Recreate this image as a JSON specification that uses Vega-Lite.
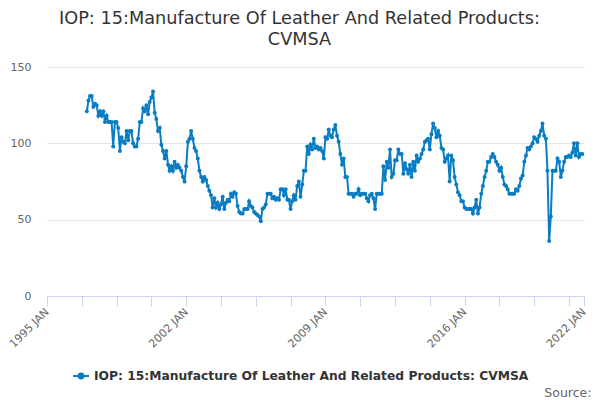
{
  "$schema": "https://vega.github.io/schema/vega-lite/v6.json",
  "width": 537,
  "height": 229,
  "autosize": "none",
  "padding": {"left": 47, "top": 67, "right": 16, "bottom": 104},
  "background": "#ffffff",
  "config": {
    "font": "DejaVu Sans",
    "view": {"stroke": null},
    "legend": {
      "orient": "none",
      "legendX": 25,
      "legendY": 300,
      "labelFont": "DejaVu Sans",
      "labelFontSize": 12.3,
      "labelFontWeight": "bold",
      "labelColor": "#333333",
      "labelLimit": 0,
      "symbolType": "M-1,0H1M-0.3,0A0.3,0.3 0 1,0 0.3,0A0.3,0.3 0 1,0 -0.3,0",
      "symbolSize": 256,
      "symbolStrokeWidth": 2,
      "symbolFillColor": "#0a7dc2",
      "symbolStrokeColor": "#0a7dc2"
    }
  },
  "title": {
    "text": ["IOP: 15:Manufacture Of Leather And Related Products:", "CVMSA"],
    "font": "DejaVu Sans",
    "fontSize": 17.7,
    "fontWeight": "normal",
    "color": "#333333",
    "lineHeight": 21,
    "anchor": "middle",
    "frame": "group",
    "dx": -16,
    "offset": 12
  },
  "data": {
    "values": [
      {"date": "1997-01", "value": 121}, {"date": "1997-02", "value": 128}, {"date": "1997-03", "value": 131}, {"date": "1997-04", "value": 131},
      {"date": "1997-05", "value": 124}, {"date": "1997-06", "value": 126}, {"date": "1997-07", "value": 125}, {"date": "1997-08", "value": 118},
      {"date": "1997-09", "value": 121}, {"date": "1997-10", "value": 118}, {"date": "1997-11", "value": 121}, {"date": "1997-12", "value": 114},
      {"date": "1998-01", "value": 118}, {"date": "1998-02", "value": 114}, {"date": "1998-03", "value": 114}, {"date": "1998-04", "value": 114},
      {"date": "1998-05", "value": 98}, {"date": "1998-06", "value": 114}, {"date": "1998-07", "value": 114}, {"date": "1998-08", "value": 110},
      {"date": "1998-09", "value": 95}, {"date": "1998-10", "value": 104}, {"date": "1998-11", "value": 101}, {"date": "1998-12", "value": 100},
      {"date": "1999-01", "value": 108}, {"date": "1999-02", "value": 102}, {"date": "1999-03", "value": 108}, {"date": "1999-04", "value": 108},
      {"date": "1999-05", "value": 100}, {"date": "1999-06", "value": 98}, {"date": "1999-07", "value": 98}, {"date": "1999-08", "value": 103},
      {"date": "1999-09", "value": 114}, {"date": "1999-10", "value": 114}, {"date": "1999-11", "value": 123}, {"date": "1999-12", "value": 121},
      {"date": "2000-01", "value": 125}, {"date": "2000-02", "value": 119}, {"date": "2000-03", "value": 127}, {"date": "2000-04", "value": 130},
      {"date": "2000-05", "value": 134}, {"date": "2000-06", "value": 120}, {"date": "2000-07", "value": 116}, {"date": "2000-08", "value": 108},
      {"date": "2000-09", "value": 110}, {"date": "2000-10", "value": 99}, {"date": "2000-11", "value": 95}, {"date": "2000-12", "value": 90},
      {"date": "2001-01", "value": 95}, {"date": "2001-02", "value": 86}, {"date": "2001-03", "value": 82}, {"date": "2001-04", "value": 85},
      {"date": "2001-05", "value": 82}, {"date": "2001-06", "value": 88}, {"date": "2001-07", "value": 84}, {"date": "2001-08", "value": 86},
      {"date": "2001-09", "value": 84}, {"date": "2001-10", "value": 82}, {"date": "2001-11", "value": 78}, {"date": "2001-12", "value": 75},
      {"date": "2002-01", "value": 85}, {"date": "2002-02", "value": 101}, {"date": "2002-03", "value": 103}, {"date": "2002-04", "value": 108},
      {"date": "2002-05", "value": 103}, {"date": "2002-06", "value": 97}, {"date": "2002-07", "value": 95}, {"date": "2002-08", "value": 90},
      {"date": "2002-09", "value": 82}, {"date": "2002-10", "value": 78}, {"date": "2002-11", "value": 75}, {"date": "2002-12", "value": 78},
      {"date": "2003-01", "value": 76}, {"date": "2003-02", "value": 72}, {"date": "2003-03", "value": 69}, {"date": "2003-04", "value": 66},
      {"date": "2003-05", "value": 58}, {"date": "2003-06", "value": 64}, {"date": "2003-07", "value": 58}, {"date": "2003-08", "value": 61},
      {"date": "2003-09", "value": 57}, {"date": "2003-10", "value": 60}, {"date": "2003-11", "value": 65}, {"date": "2003-12", "value": 57},
      {"date": "2004-01", "value": 61}, {"date": "2004-02", "value": 63}, {"date": "2004-03", "value": 62}, {"date": "2004-04", "value": 67},
      {"date": "2004-05", "value": 65}, {"date": "2004-06", "value": 68}, {"date": "2004-07", "value": 67}, {"date": "2004-08", "value": 59},
      {"date": "2004-09", "value": 55}, {"date": "2004-10", "value": 54}, {"date": "2004-11", "value": 54}, {"date": "2004-12", "value": 57},
      {"date": "2005-01", "value": 57}, {"date": "2005-02", "value": 57}, {"date": "2005-03", "value": 62}, {"date": "2005-04", "value": 59},
      {"date": "2005-05", "value": 58}, {"date": "2005-06", "value": 55}, {"date": "2005-07", "value": 54}, {"date": "2005-08", "value": 53},
      {"date": "2005-09", "value": 52}, {"date": "2005-10", "value": 49}, {"date": "2005-11", "value": 57}, {"date": "2005-12", "value": 58},
      {"date": "2006-01", "value": 60}, {"date": "2006-02", "value": 67}, {"date": "2006-03", "value": 67}, {"date": "2006-04", "value": 67},
      {"date": "2006-05", "value": 64}, {"date": "2006-06", "value": 65}, {"date": "2006-07", "value": 63}, {"date": "2006-08", "value": 64},
      {"date": "2006-09", "value": 63}, {"date": "2006-10", "value": 70}, {"date": "2006-11", "value": 70}, {"date": "2006-12", "value": 66},
      {"date": "2007-01", "value": 70}, {"date": "2007-02", "value": 63}, {"date": "2007-03", "value": 63}, {"date": "2007-04", "value": 57},
      {"date": "2007-05", "value": 62}, {"date": "2007-06", "value": 66}, {"date": "2007-07", "value": 63}, {"date": "2007-08", "value": 72},
      {"date": "2007-09", "value": 75}, {"date": "2007-10", "value": 65}, {"date": "2007-11", "value": 73}, {"date": "2007-12", "value": 82},
      {"date": "2008-01", "value": 82}, {"date": "2008-02", "value": 98}, {"date": "2008-03", "value": 93}, {"date": "2008-04", "value": 99},
      {"date": "2008-05", "value": 96}, {"date": "2008-06", "value": 103}, {"date": "2008-07", "value": 97}, {"date": "2008-08", "value": 98},
      {"date": "2008-09", "value": 96}, {"date": "2008-10", "value": 97}, {"date": "2008-11", "value": 95}, {"date": "2008-12", "value": 90},
      {"date": "2009-01", "value": 104}, {"date": "2009-02", "value": 103}, {"date": "2009-03", "value": 109}, {"date": "2009-04", "value": 105},
      {"date": "2009-05", "value": 104}, {"date": "2009-06", "value": 109}, {"date": "2009-07", "value": 112}, {"date": "2009-08", "value": 105},
      {"date": "2009-09", "value": 101}, {"date": "2009-10", "value": 93}, {"date": "2009-11", "value": 86}, {"date": "2009-12", "value": 90},
      {"date": "2010-01", "value": 78}, {"date": "2010-02", "value": 78}, {"date": "2010-03", "value": 67}, {"date": "2010-04", "value": 67},
      {"date": "2010-05", "value": 67}, {"date": "2010-06", "value": 65}, {"date": "2010-07", "value": 67}, {"date": "2010-08", "value": 67},
      {"date": "2010-09", "value": 70}, {"date": "2010-10", "value": 66}, {"date": "2010-11", "value": 67}, {"date": "2010-12", "value": 67},
      {"date": "2011-01", "value": 67}, {"date": "2011-02", "value": 64}, {"date": "2011-03", "value": 62}, {"date": "2011-04", "value": 66},
      {"date": "2011-05", "value": 67}, {"date": "2011-06", "value": 64}, {"date": "2011-07", "value": 57}, {"date": "2011-08", "value": 67},
      {"date": "2011-09", "value": 67}, {"date": "2011-10", "value": 67}, {"date": "2011-11", "value": 67}, {"date": "2011-12", "value": 85},
      {"date": "2012-01", "value": 76}, {"date": "2012-02", "value": 88}, {"date": "2012-03", "value": 84}, {"date": "2012-04", "value": 96},
      {"date": "2012-05", "value": 78}, {"date": "2012-06", "value": 80}, {"date": "2012-07", "value": 89}, {"date": "2012-08", "value": 89},
      {"date": "2012-09", "value": 96}, {"date": "2012-10", "value": 93}, {"date": "2012-11", "value": 93}, {"date": "2012-12", "value": 80},
      {"date": "2013-01", "value": 87}, {"date": "2013-02", "value": 83}, {"date": "2013-03", "value": 80}, {"date": "2013-04", "value": 86},
      {"date": "2013-05", "value": 78}, {"date": "2013-06", "value": 88}, {"date": "2013-07", "value": 82}, {"date": "2013-08", "value": 92},
      {"date": "2013-09", "value": 88}, {"date": "2013-10", "value": 90}, {"date": "2013-11", "value": 93}, {"date": "2013-12", "value": 96},
      {"date": "2014-01", "value": 101}, {"date": "2014-02", "value": 102}, {"date": "2014-03", "value": 103}, {"date": "2014-04", "value": 96},
      {"date": "2014-05", "value": 106}, {"date": "2014-06", "value": 113}, {"date": "2014-07", "value": 110}, {"date": "2014-08", "value": 104},
      {"date": "2014-09", "value": 108}, {"date": "2014-10", "value": 105}, {"date": "2014-11", "value": 97}, {"date": "2014-12", "value": 96},
      {"date": "2015-01", "value": 88}, {"date": "2015-02", "value": 90}, {"date": "2015-03", "value": 92}, {"date": "2015-04", "value": 75},
      {"date": "2015-05", "value": 92}, {"date": "2015-06", "value": 89}, {"date": "2015-07", "value": 78}, {"date": "2015-08", "value": 73},
      {"date": "2015-09", "value": 68}, {"date": "2015-10", "value": 66}, {"date": "2015-11", "value": 62}, {"date": "2015-12", "value": 62},
      {"date": "2016-01", "value": 58}, {"date": "2016-02", "value": 57}, {"date": "2016-03", "value": 57}, {"date": "2016-04", "value": 57},
      {"date": "2016-05", "value": 57}, {"date": "2016-06", "value": 54}, {"date": "2016-07", "value": 58}, {"date": "2016-08", "value": 63},
      {"date": "2016-09", "value": 54}, {"date": "2016-10", "value": 58}, {"date": "2016-11", "value": 67}, {"date": "2016-12", "value": 72},
      {"date": "2017-01", "value": 78}, {"date": "2017-02", "value": 82}, {"date": "2017-03", "value": 88}, {"date": "2017-04", "value": 88},
      {"date": "2017-05", "value": 91}, {"date": "2017-06", "value": 93}, {"date": "2017-07", "value": 91}, {"date": "2017-08", "value": 88},
      {"date": "2017-09", "value": 86}, {"date": "2017-10", "value": 82}, {"date": "2017-11", "value": 84}, {"date": "2017-12", "value": 78},
      {"date": "2018-01", "value": 73}, {"date": "2018-02", "value": 72}, {"date": "2018-03", "value": 70}, {"date": "2018-04", "value": 67},
      {"date": "2018-05", "value": 67}, {"date": "2018-06", "value": 67}, {"date": "2018-07", "value": 67}, {"date": "2018-08", "value": 70},
      {"date": "2018-09", "value": 69}, {"date": "2018-10", "value": 72}, {"date": "2018-11", "value": 77}, {"date": "2018-12", "value": 79},
      {"date": "2019-01", "value": 88}, {"date": "2019-02", "value": 92}, {"date": "2019-03", "value": 97}, {"date": "2019-04", "value": 96},
      {"date": "2019-05", "value": 98}, {"date": "2019-06", "value": 100}, {"date": "2019-07", "value": 104}, {"date": "2019-08", "value": 103},
      {"date": "2019-09", "value": 101}, {"date": "2019-10", "value": 105}, {"date": "2019-11", "value": 108}, {"date": "2019-12", "value": 113},
      {"date": "2020-01", "value": 105}, {"date": "2020-02", "value": 103}, {"date": "2020-03", "value": 82}, {"date": "2020-04", "value": 36},
      {"date": "2020-05", "value": 52}, {"date": "2020-06", "value": 82}, {"date": "2020-07", "value": 82}, {"date": "2020-08", "value": 82},
      {"date": "2020-09", "value": 90}, {"date": "2020-10", "value": 88}, {"date": "2020-11", "value": 78}, {"date": "2020-12", "value": 82},
      {"date": "2021-01", "value": 88}, {"date": "2021-02", "value": 91}, {"date": "2021-03", "value": 91}, {"date": "2021-04", "value": 92},
      {"date": "2021-05", "value": 91}, {"date": "2021-06", "value": 94}, {"date": "2021-07", "value": 100}, {"date": "2021-08", "value": 92},
      {"date": "2021-09", "value": 100}, {"date": "2021-10", "value": 91}, {"date": "2021-11", "value": 93}, {"date": "2021-12", "value": 93}
    ],
    "format": {"parse": {"date": "date:'%Y-%m'"}}
  },
  "mark": {
    "type": "line",
    "strokeWidth": 2,
    "point": {"filled": true, "size": 16}
  },
  "encoding": {
    "x": {
      "field": "date",
      "type": "temporal",
      "scale": {"domain": [{"year": 1995, "month": 1, "date": 1}, {"year": 2022, "month": 1, "date": 1}]},
      "axis": {
        "values": [
          {"year": 1995, "month": 1, "date": 1}, {"year": 1996, "month": 10, "date": 1},
          {"year": 1998, "month": 7, "date": 1}, {"year": 2000, "month": 4, "date": 1},
          {"year": 2002, "month": 1, "date": 1}, {"year": 2003, "month": 10, "date": 1},
          {"year": 2005, "month": 7, "date": 1}, {"year": 2007, "month": 4, "date": 1},
          {"year": 2009, "month": 1, "date": 1}, {"year": 2010, "month": 10, "date": 1},
          {"year": 2012, "month": 7, "date": 1}, {"year": 2014, "month": 4, "date": 1},
          {"year": 2016, "month": 1, "date": 1}, {"year": 2017, "month": 10, "date": 1},
          {"year": 2019, "month": 7, "date": 1}, {"year": 2021, "month": 4, "date": 1},
          {"year": 2022, "month": 1, "date": 1}
        ],
        "labelExpr": "month(datum.value) == 0 ? timeFormat(datum.value, '%Y ') + upper(timeFormat(datum.value, '%b')) : ''",
        "labelAngle": -45,
        "labelAlign": "right",
        "labelBaseline": "middle",
        "labelPadding": 4,
        "labelFontSize": 11,
        "labelColor": "#666666",
        "labelOverlap": false,
        "labelFlush": false,
        "domainColor": "#ccd6eb",
        "tickColor": "#ccd6eb",
        "tickSize": 10,
        "grid": false,
        "title": "Source:",
        "titleFontSize": 12.5,
        "titleFontWeight": "normal",
        "titleColor": "#666666",
        "titleAlign": "right",
        "titleBaseline": "alphabetic",
        "titleAnchor": "end",
        "titleX": 544,
        "titleY": 100
      }
    },
    "y": {
      "field": "value",
      "type": "quantitative",
      "scale": {"domain": [0, 150], "nice": false},
      "axis": {
        "values": [0, 50, 100, 150],
        "title": null,
        "domain": false,
        "ticks": false,
        "labelPadding": 16,
        "labelFontSize": 11,
        "labelColor": "#666666",
        "gridColor": "#e6e6e6"
      }
    },
    "color": {
      "field": "series",
      "type": "nominal",
      "datum": "IOP: 15:Manufacture Of Leather And Related Products: CVMSA",
      "scale": {"range": ["#0a7dc2"]},
      "legend": {"title": null}
    }
  }
}
